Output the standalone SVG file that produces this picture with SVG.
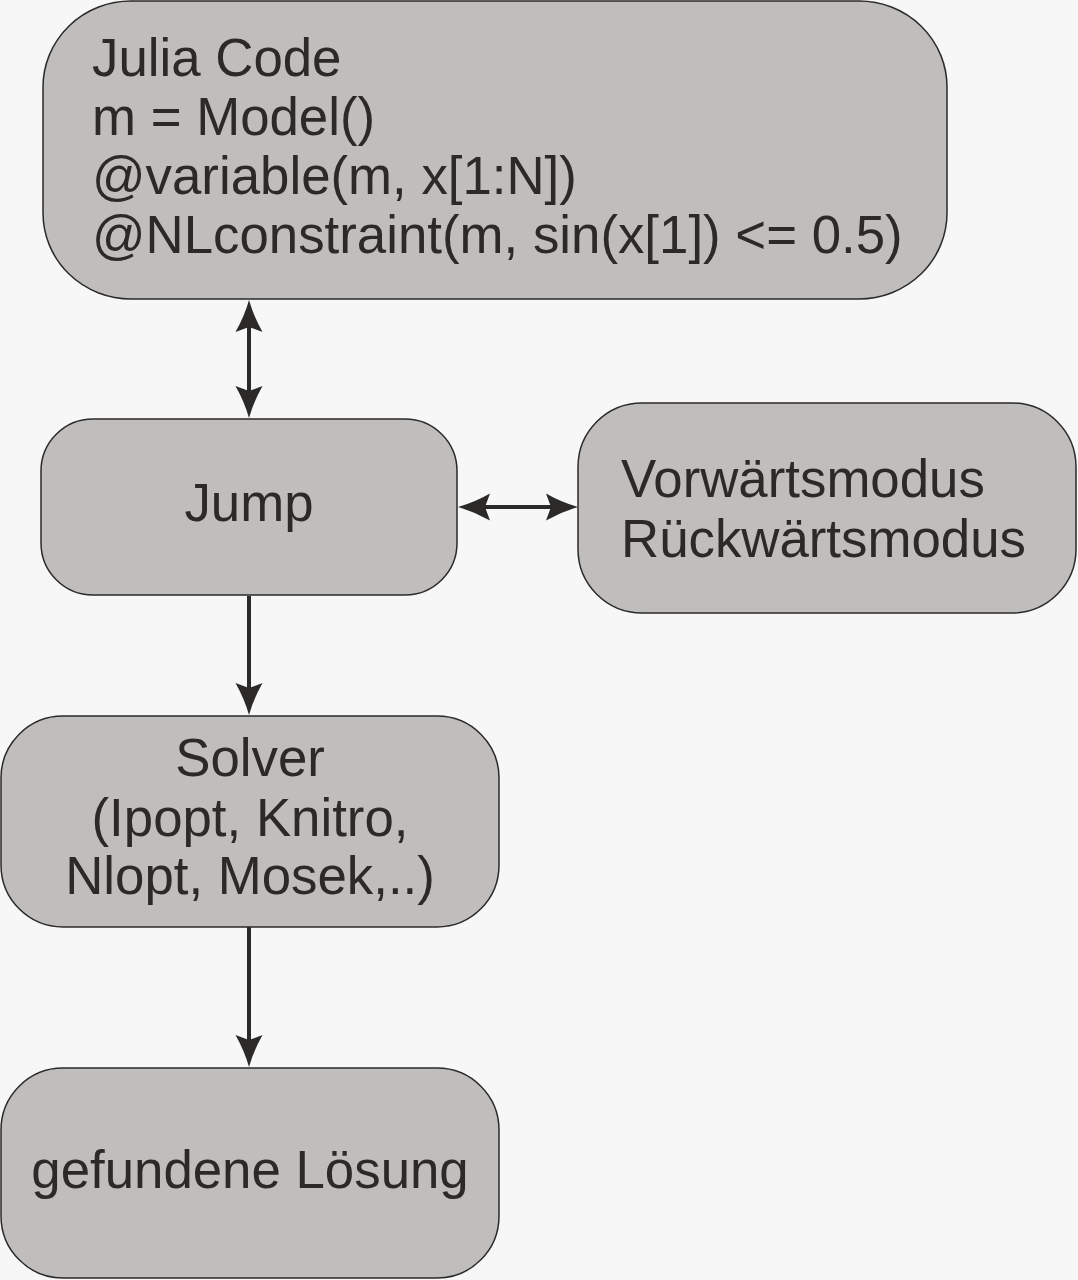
<svg xmlns="http://www.w3.org/2000/svg" width="1078" height="1280" viewBox="0 0 1078 1280">
  <style>
    .box { fill: #bfbebc; stroke: #2b2a29; stroke-width: 1.5; }
    .txt { font-family: "Liberation Sans", Arial, sans-serif; font-size: 52.8px; fill: #2b2a29; }
    .mid { text-anchor: middle; }
    .conn { stroke: #2b2a29; stroke-width: 4; fill: none; }
  </style>
  <defs>
    <marker id="arrow" markerUnits="userSpaceOnUse" markerWidth="34" markerHeight="30" viewBox="0 0 34 30" refX="12" refY="14" orient="auto-start-reverse">
      <path d="M32,14 Q16,9.5 0,0.5 L5,14 L0,27.5 Q16,18.5 32,14 Z" fill="#2b2a29"/>
    </marker>
  </defs>
  <rect width="1078" height="1280" fill="#f7f7f7"/>

  <g id="julia-code">
    <rect class="box" x="43" y="1" width="904" height="298" rx="88" ry="86"/>
    <text class="txt" x="92" y="76">Julia Code</text>
    <text class="txt" x="92" y="135">m = Model()</text>
    <text class="txt" x="92" y="194">@variable(m, x[1:N])</text>
    <text class="txt" x="92" y="253">@NLconstraint(m, sin(x[1]) &lt;= 0.5)</text>
  </g>

  <g id="jump">
    <rect class="box" x="41" y="419" width="416" height="176" rx="52" ry="52"/>
    <text class="txt mid" x="249" y="521">Jump</text>
  </g>

  <g id="modus">
    <rect class="box" x="578" y="403" width="498" height="210" rx="64" ry="64"/>
    <text class="txt" x="621" y="497">Vorwärtsmodus</text>
    <text class="txt" x="621" y="557">Rückwärtsmodus</text>
  </g>

  <g id="solver">
    <rect class="box" x="1" y="716" width="498" height="211" rx="62" ry="62"/>
    <text class="txt mid" x="250" y="776">Solver</text>
    <text class="txt mid" x="250" y="836">(Ipopt, Knitro,</text>
    <text class="txt mid" x="250" y="894">Nlopt, Mosek,..)</text>
  </g>

  <g id="loesung">
    <rect class="box" x="1" y="1068" width="498" height="210" rx="62" ry="62"/>
    <text class="txt mid" x="250" y="1188">gefundene Lösung</text>
  </g>

  <g id="connectors">
    <line class="conn" x1="249" y1="320" x2="249" y2="398" marker-start="url(#arrow)" marker-end="url(#arrow)"/>
    <line class="conn" x1="478" y1="507" x2="558" y2="507" marker-start="url(#arrow)" marker-end="url(#arrow)"/>
    <line class="conn" x1="249" y1="596" x2="249" y2="695" marker-end="url(#arrow)"/>
    <line class="conn" x1="249" y1="927" x2="249" y2="1047" marker-end="url(#arrow)"/>
  </g>
</svg>
